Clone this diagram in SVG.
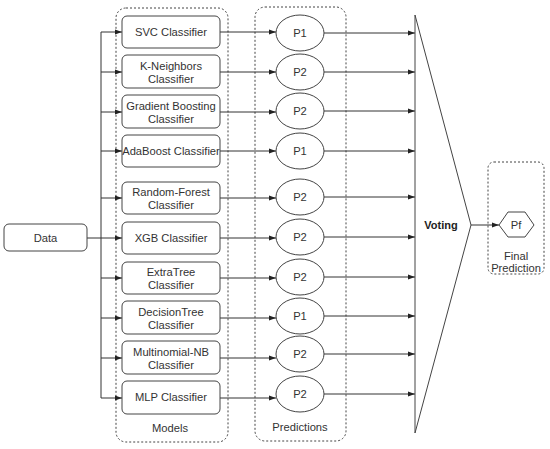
<svg xmlns="http://www.w3.org/2000/svg" width="550" height="449" viewBox="0 0 550 449">
<defs>
<marker id="ah" viewBox="0 0 10 10" refX="10" refY="5" markerWidth="7" markerHeight="7" markerUnits="userSpaceOnUse" orient="auto">
<path d="M0,1.5 L10,5 L0,8.5 Z" fill="#222"/>
</marker>
<style>
text{font-family:"Liberation Sans",Arial,sans-serif;font-size:11.2px;fill:#333;text-anchor:middle}
.box{fill:#fff;stroke:#444;stroke-width:1}
.grp{fill:none;stroke:#444;stroke-width:1;stroke-dasharray:2 2}
.ln{fill:none;stroke:#333;stroke-width:1}
.ar{fill:none;stroke:#333;stroke-width:1;marker-end:url(#ah)}
</style>
</defs>
<rect width="550" height="449" fill="#fff"/>
<g id="containers">
<rect id="models-group" class="grp" x="116" y="8" width="112" height="434" rx="10"/>
<rect id="predictions-group" class="grp" x="255" y="7" width="91" height="434" rx="10"/>
<rect id="final-group" class="grp" x="488" y="162" width="56" height="112" rx="6"/>
<text x="170" y="432">Models</text>
<text x="300" y="431">Predictions</text>
<text x="516" y="260">Final</text>
<text x="516" y="272">Prediction</text>
</g>
<g id="connectors">
<path class="ln" d="M87,238 H101 M101,32 V398"/>
<path class="ar" d="M101,32 H122"/>
<path class="ar" d="M101,72 H122"/>
<path class="ar" d="M101,112 H122"/>
<path class="ar" d="M101,151 H122"/>
<path class="ar" d="M101,198 H122"/>
<path class="ar" d="M101,238 H122"/>
<path class="ar" d="M101,278 H122"/>
<path class="ar" d="M101,318 H122"/>
<path class="ar" d="M101,358 H122"/>
<path class="ar" d="M101,398 H122"/>
<path class="ar" d="M220,32 H276"/>
<path class="ar" d="M220,72 H276"/>
<path class="ar" d="M220,112 H276"/>
<path class="ar" d="M220,151 H276"/>
<path class="ar" d="M220,198 H276"/>
<path class="ar" d="M220,238 H276"/>
<path class="ar" d="M220,278 H276"/>
<path class="ar" d="M220,318 H276"/>
<path class="ar" d="M220,358 H276"/>
<path class="ar" d="M220,398 H276"/>
<path class="ar" d="M324,33 H415"/>
<path class="ar" d="M324,72 H415"/>
<path class="ar" d="M324,111 H415"/>
<path class="ar" d="M324,151 H415"/>
<path class="ar" d="M324,197 H415"/>
<path class="ar" d="M324,237 H415"/>
<path class="ar" d="M324,277 H415"/>
<path class="ar" d="M324,316 H415"/>
<path class="ar" d="M324,354 H415"/>
<path class="ar" d="M324,394 H415"/>
<path class="ar" d="M471,225 H499"/>
</g>
<g id="data"><rect class="box" x="4" y="224" width="83" height="27" rx="5"/><text x="45.5" y="242">Data</text></g>
<g id="svc"><rect class="box" x="122" y="16" width="98" height="32" rx="5"/><text x="171" y="36">SVC Classifier</text></g>
<g id="knn"><rect class="box" x="122" y="55" width="98" height="33" rx="5"/><text x="171" y="70">K-Neighbors</text><text x="171" y="83">Classifier</text></g>
<g id="gb"><rect class="box" x="122" y="95" width="98" height="33" rx="5"/><text x="171" y="110">Gradient Boosting</text><text x="171" y="123">Classifier</text></g>
<g id="ada"><rect class="box" x="122" y="135" width="98" height="32" rx="5"/><text x="171" y="155">AdaBoost Classifier</text></g>
<g id="rf"><rect class="box" x="122" y="182" width="98" height="32" rx="5"/><text x="171" y="196">Random-Forest</text><text x="171" y="209">Classifier</text></g>
<g id="xgb"><rect class="box" x="122" y="222" width="98" height="32" rx="5"/><text x="171" y="242">XGB Classifier</text></g>
<g id="et"><rect class="box" x="122" y="262" width="98" height="32" rx="5"/><text x="171" y="276">ExtraTree</text><text x="171" y="289">Classifier</text></g>
<g id="dt"><rect class="box" x="122" y="301" width="98" height="33" rx="5"/><text x="171" y="316">DecisionTree</text><text x="171" y="329">Classifier</text></g>
<g id="mnb"><rect class="box" x="122" y="341" width="98" height="33" rx="5"/><text x="171" y="356">Multinomial-NB</text><text x="171" y="369">Classifier</text></g>
<g id="mlp"><rect class="box" x="122" y="381" width="98" height="33" rx="5"/><text x="171" y="401">MLP Classifier</text></g>
<g id="p-svc"><ellipse class="box" cx="300" cy="33" rx="24" ry="18"/><text x="300" y="37">P1</text></g>
<g id="p-knn"><ellipse class="box" cx="300" cy="72" rx="24" ry="18"/><text x="300" y="76">P2</text></g>
<g id="p-gb"><ellipse class="box" cx="300" cy="111" rx="24" ry="18"/><text x="300" y="115">P2</text></g>
<g id="p-ada"><ellipse class="box" cx="300" cy="151" rx="24" ry="18"/><text x="300" y="155">P1</text></g>
<g id="p-rf"><ellipse class="box" cx="300" cy="197" rx="24" ry="18"/><text x="300" y="201">P2</text></g>
<g id="p-xgb"><ellipse class="box" cx="300" cy="237" rx="24" ry="18"/><text x="300" y="241">P2</text></g>
<g id="p-et"><ellipse class="box" cx="300" cy="277" rx="24" ry="18"/><text x="300" y="281">P2</text></g>
<g id="p-dt"><ellipse class="box" cx="300" cy="316" rx="24" ry="18"/><text x="300" y="320">P1</text></g>
<g id="p-mnb"><ellipse class="box" cx="300" cy="354" rx="24" ry="18"/><text x="300" y="358">P2</text></g>
<g id="p-mlp"><ellipse class="box" cx="300" cy="394" rx="24" ry="18"/><text x="300" y="398">P2</text></g>
<g id="voting"><polygon class="box" points="415,15 471,225 415,433"/><text x="441" y="229" style="font-weight:bold;font-size:11px;fill:#222">Voting</text></g>
<g id="final"><polygon class="box" points="499,225 508,212 525,212 534,225 525,237 508,237"/><text x="516" y="229">Pf</text></g>
</svg>
